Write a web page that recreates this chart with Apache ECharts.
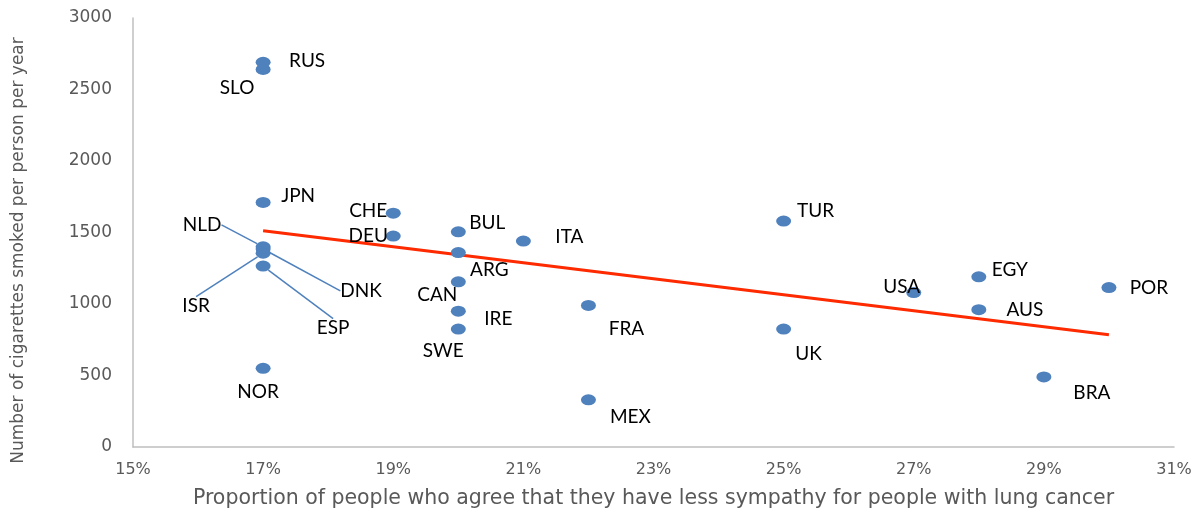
<!DOCTYPE html>
<html>
<head>
<meta charset="utf-8">
<script src="https://cdn.jsdelivr.net/npm/echarts@6/dist/echarts.min.js"></script>
<style>
  html, body { margin: 0; padding: 0; background: #fff; }
  #chart { width: 1192px; height: 513px; }
</style>
</head>
<body>
<div id="chart"></div>
<script>
// country codes and their values (x = % agreeing, y = cigarettes per person per year)
const countries = ['RUS', 'SLO', 'JPN', 'NLD', 'DNK', 'ISR', 'ESP', 'NOR', 'CHE', 'DEU',
  'BUL', 'ARG', 'CAN', 'IRE', 'SWE', 'ITA', 'FRA', 'MEX', 'TUR', 'UK',
  'USA', 'EGY', 'AUS', 'BRA', 'POR']
const sympathyPct = [17, 17, 17, 17, 17, 17, 17, 17, 19, 19,
  20, 20, 20, 20, 20, 21, 22, 22, 25, 25,
  27, 28, 28, 29, 30]
const cigarettes = [2690, 2640, 1710, 1400, 1385, 1355, 1265, 550, 1635, 1475,
  1505, 1360, 1155, 950, 825, 1440, 990, 330, 1580, 825,
  1080, 1190, 960, 490, 1115]

// trend line end points
const trendX = [17, 30]
const trendY = [1512, 785]

const xTicks = { min: 15, max: 31, step: 2 }
const yTicks = { min: 0, max: 3000, step: 500 }

// label placement (label centre minus point centre, px)
const labelOffsets = {
  RUS: [44, -1], SLO: [-26, 18], JPN: [35, -7], NLD: [-61, -22], DNK: [98, 42],
  ISR: [-67, 53], ESP: [70, 62], NOR: [-5, 24], CHE: [-25, -2], DEU: [-25, 0],
  BUL: [29, -9], ARG: [31, 17], CAN: [-21, 13], IRE: [40, 8], SWE: [-15, 22],
  ITA: [46, -4], FRA: [38, 23], MEX: [42, 17], TUR: [32, -10], UK: [25, 25],
  USA: [-12, -6], EGY: [31, -7], AUS: [46, 0], BRA: [48, 16], POR: [40, 0]
}
const leaderLabels = ['NLD', 'DNK', 'ISR', 'ESP']

const labelFont = 'Lato, "Open Sans", sans-serif'
const axisFont = '"DejaVu Sans", sans-serif'
const chart = echarts.init(document.getElementById('chart'))

const points = countries.map((name, i) => ({
  name,
  value: [sympathyPct[i], cigarettes[i]],
  labelLine: { show: leaderLabels.includes(name) }
}))

const option = {
  animation: false,
  backgroundColor: '#ffffff',
  grid: {
    left: 133, right: 18, top: 18, bottom: 66,
    containLabel: false,
    outerBoundsMode: 'none'
  },
  xAxis: {
    type: 'value',
    min: xTicks.min,
    max: xTicks.max,
    interval: xTicks.step,
    name: 'Proportion of people who agree that they have less sympathy for people with lung cancer',
    nameLocation: 'middle',
    nameGap: 41,
    nameTextStyle: { color: '#595959', fontSize: 20.5, fontFamily: axisFont },
    axisLine: { show: true, lineStyle: { color: '#bfbfbf', width: 1.5 } },
    axisTick: { show: false },
    splitLine: { show: false },
    axisLabel: {
      color: '#595959', fontSize: 16, fontFamily: axisFont, margin: 15,
      formatter: v => v + '%'
    }
  },
  yAxis: {
    type: 'value',
    min: yTicks.min,
    max: yTicks.max,
    interval: yTicks.step,
    name: 'Number of cigarettes smoked per person per year',
    nameLocation: 'middle',
    nameGap: 106,
    nameTextStyle: { color: '#595959', fontSize: 17, fontFamily: axisFont, padding: [0, 36, 0, 0] },
    axisLine: { show: true, lineStyle: { color: '#bfbfbf', width: 1.5 } },
    axisTick: { show: false },
    splitLine: { show: false },
    axisLabel: {
      color: '#595959', fontSize: 17, fontFamily: axisFont, margin: 21,
      formatter: v => String(v)
    }
  },
  series: [
    {
      name: 'Trend',
      type: 'line',
      data: trendX.map((x, i) => [x, trendY[i]]),
      showSymbol: false,
      lineStyle: { color: '#ff2a00', width: 3 },
      z: 1
    },
    {
      name: 'Countries',
      type: 'scatter',
      data: points,
      symbol: 'circle',
      symbolSize: [15, 11],
      itemStyle: { color: '#4f81bd', opacity: 1 },
      z: 2,
      label: {
        show: true,
        position: 'inside',
        formatter: p => p.name,
        color: '#000000',
        fontSize: 19,
        fontFamily: labelFont
      },
      labelLayout: p => {
        const off = labelOffsets[countries[p.dataIndex]] || [0, 0]
        return { dx: off[0], dy: off[1] }
      },
      labelLine: { show: false, lineStyle: { color: '#4f81bd', width: 1.5 } }
    }
  ]
}

chart.setOption(option)
</script>
</body>
</html>
